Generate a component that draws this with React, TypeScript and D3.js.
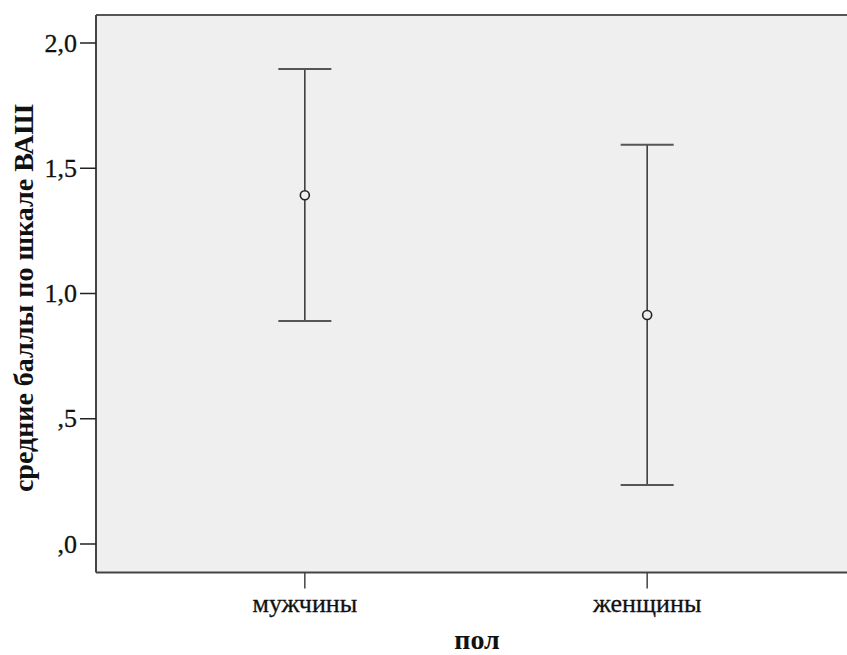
import React from 'react';
import * as d3 from 'd3';

// data (mean with error bar bounds)
const categories = ['мужчины', 'женщины'];
const means = [1.392, 0.914];
const lower = [0.890, 0.236];
const upper = [1.896, 1.594];
const yTicks = [0, 0.5, 1.0, 1.5, 2.0];

const W = 847;
const H = 655;
const m = { left: 96, right: -9, top: 15, bottom: 83 };

const fmt = (v: number) => {
  const s = v.toFixed(1).replace('.', ',');
  return s.startsWith('0') ? s.slice(1) : s;
};

const App = () => {
  const x = d3.scalePoint<string>()
    .domain(categories)
    .range([m.left, W - m.right])
    .padding(0.61);

  const y = d3.scaleLinear()
    .domain([0, 2])
    .range([544, 43]);

  const plotBottom = H - m.bottom + 0.5;
  const font = '"Liberation Serif", "Times New Roman", serif';
  const capHalf = 26.5;

  return (
    <svg width={W} height={H} style={{ position: 'absolute', left: 0, top: 0 }}
      fontFamily={font}>
      <rect x={0} y={0} width={W} height={H} fill="#fff" />
      {/* plot background */}
      <rect x={m.left} y={m.top} width={W - m.left - m.right} height={plotBottom - m.top}
        fill="#efefef" />
      <line x1={m.left} x2={W} y1={m.top} y2={m.top} stroke="#555" strokeWidth={2} />
      <line x1={m.left} x2={W} y1={plotBottom} y2={plotBottom} stroke="#444" strokeWidth={2} />
      <line x1={m.left} x2={m.left} y1={m.top} y2={plotBottom} stroke="#444" strokeWidth={2} />

      {/* y axis */}
      {yTicks.map(t => (
        <g key={t}>
          <line x1={m.left - 16} x2={m.left} y1={y(t)} y2={y(t)} stroke="#222" strokeWidth={1.5} />
          <text x={m.left - 19} y={y(t)} dy="0.33em" textAnchor="end" fontSize={26}
            fill="#111" stroke="#111" strokeWidth={0.3}>
            {fmt(t)}
          </text>
        </g>
      ))}

      {/* x axis */}
      {categories.map(c => (
        <g key={c}>
          <line x1={x(c)} x2={x(c)} y1={plotBottom} y2={plotBottom + 16} stroke="#444" strokeWidth={1.5} />
          <text x={x(c)} y={612} textAnchor="middle" fontSize={26} fill="#111"
            stroke="#111" strokeWidth={0.3}>{c}</text>
        </g>
      ))}

      {/* error bars */}
      {categories.map((c, i) => {
        const cx = x(c) as number;
        return (
          <g key={'e' + c} stroke="#333">
            <line x1={cx} x2={cx} y1={y(upper[i])} y2={y(lower[i])} strokeWidth={1.5} />
            <line x1={cx - capHalf} x2={cx + capHalf} y1={y(upper[i])} y2={y(upper[i])} strokeWidth={2} stroke="#555" />
            <line x1={cx - capHalf} x2={cx + capHalf} y1={y(lower[i])} y2={y(lower[i])} strokeWidth={2} stroke="#555" />
            <circle cx={cx} cy={y(means[i])} r={4.5} fill="#efefef" strokeWidth={1.6} stroke="#222" />
          </g>
        );
      })}

      {/* axis titles */}
      <text x={477} y={649} textAnchor="middle" fontSize={28} fontWeight="bold" fill="#111">
        пол
      </text>
      <text transform="translate(33, 298) rotate(-90)" textAnchor="middle"
        fontSize={28} fontWeight="bold" fill="#111">
        средние баллы по шкале ВАШ
      </text>
    </svg>
  );
};

export default App;
